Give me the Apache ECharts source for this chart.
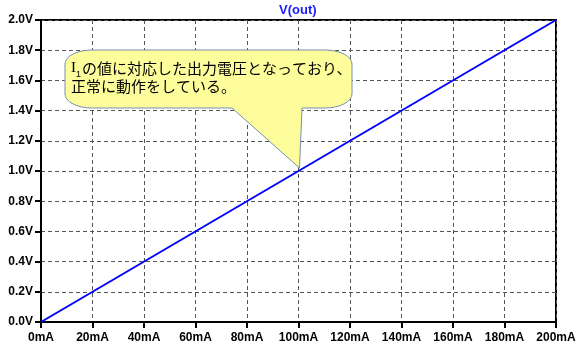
<!DOCTYPE html>
<html>
<head>
<meta charset="utf-8">
<script src="https://cdn.jsdelivr.net/npm/echarts@6/dist/echarts.min.js"></script>
<style>
  html, body { margin: 0; padding: 0; background: #fff; }
  #chart { width: 582px; height: 351px; }
</style>
</head>
<body>
<div id="chart"></div>
<script>
// sweep of I1 (mA) and the resulting V(out) (V)
var currentMA = [0, 200];
var voltageV = [0, 2.0];
var seriesName = 'V(out)';
var noteLine1 = 'の値に対応した出力電圧となっており、';
var noteLine2 = '正常に動作をしている。';
var notePoint = [100, 1.0];

var chart = echarts.init(document.getElementById('chart'));

var lineData = currentMA.map(function(x, i) {
  return [x, voltageV[i]];
});

var labelFont = {
  color: '#000',
  fontFamily: 'Liberation Sans, Arial, sans-serif',
  fontWeight: 'bold',
  fontSize: 12
};

var option = {
  animation: false,
  title: {
    text: seriesName,
    left: 279,
    top: 4,
    padding: 0,
    textStyle: {
      color: '#2020ff',
      fontFamily: 'Liberation Sans, Arial, sans-serif',
      fontWeight: 'bold',
      fontSize: 13
    }
  },
  grid: {
    left: 41,
    right: 26,
    top: 20,
    bottom: 29,
    show: true,
    borderColor: '#000',
    borderWidth: 2
  },
  xAxis: {
    type: 'value',
    min: 0,
    max: 200,
    interval: 20,
    axisLine: { lineStyle: { color: '#000', width: 2 } },
    axisTick: { length: 6, lineStyle: { color: '#000', width: 2 } },
    axisLabel: Object.assign({
      margin: 10,
      formatter: function(v) { return v + 'mA'; }
    }, labelFont),
    splitLine: { lineStyle: { color: '#555', type: [4, 3], width: 1 } }
  },
  yAxis: {
    type: 'value',
    min: 0,
    max: 2,
    interval: 0.2,
    axisLine: { lineStyle: { color: '#000', width: 2 } },
    axisTick: { length: 6, lineStyle: { color: '#000', width: 2 } },
    axisLabel: Object.assign({
      margin: 8,
      formatter: function(v) { return v.toFixed(1) + 'V'; }
    }, labelFont),
    splitLine: { lineStyle: { color: '#555', type: [4, 3], width: 1 } }
  },
  series: [{
    name: seriesName,
    type: 'line',
    data: lineData,
    showSymbol: false,
    lineStyle: { color: '#0000ff', width: 2 },
    z: 3
  }]
};
chart.setOption(option);

// callout bubble pointing at the 100mA / 1.0V point
var tip = chart.convertToPixel({ gridIndex: 0 }, notePoint);
var L = 65, R = 352, T = 50, B = 108, rx = 27, ry = 14;

function corner(cx, cy, a0, a1, pts) {
  for (var k = 0; k <= 8; k++) {
    var a = a0 + (a1 - a0) * k / 8;
    pts.push([cx + rx * Math.cos(a), cy + ry * Math.sin(a)]);
  }
}

var pts = [];
corner(L + rx, T + ry, Math.PI, Math.PI * 1.5, pts);      // top-left
corner(R - rx, T + ry, Math.PI * 1.5, Math.PI * 2, pts);  // top-right
corner(R - rx, B - ry, 0, Math.PI * 0.5, pts);            // bottom-right
pts.push([302, B]);
pts.push([tip[0] + 1, tip[1] - 3]);
pts.push([232, B]);
corner(L + rx, B - ry, Math.PI * 0.5, Math.PI, pts);      // bottom-left

chart.setOption({
  graphic: [
    {
      type: 'polygon',
      z: 10,
      shape: { points: pts },
      style: { fill: '#fdfd9c', stroke: '#7890b0', lineWidth: 1 }
    },
    {
      type: 'text',
      z: 11,
      left: 71,
      top: 61,
      style: {
        text: '{i|I}{g|}{t|' + noteLine1 + '}\n{t|' + noteLine2 + '}',
        rich: {
          i: { fontFamily: 'Liberation Serif, serif', fontSize: 15, lineHeight: 18, fill: '#000' },
          g: { width: 6, lineHeight: 18 },
          t: { fontFamily: 'Noto Sans CJK JP, sans-serif', fontSize: 15, lineHeight: 18, fill: '#000' }
        }
      }
    },
    {
      type: 'text',
      z: 11,
      left: 76,
      top: 70,
      style: {
        text: '1',
        fontFamily: 'Liberation Sans, sans-serif',
        fontSize: 9,
        fill: '#000'
      }
    }
  ]
});
</script>
</body>
</html>
